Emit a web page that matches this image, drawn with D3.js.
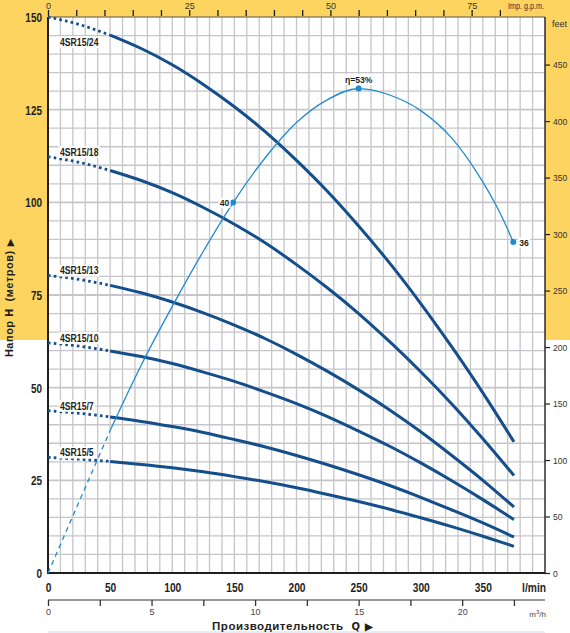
<!DOCTYPE html>
<html>
<head>
<meta charset="utf-8">
<script src="https://cdn.jsdelivr.net/npm/d3@7"></script>
<style>
  body { margin: 0; background: #fff; }
  svg { display: block; }
  text { font-family: "Liberation Sans", Arial, sans-serif; }
</style>
</head>
<body>
<svg id="chart" width="570" height="633"></svg>
<script>
// ---------- DATA ----------
const flowPoints = [0, 25, 50, 75, 100, 125, 150, 175, 200, 225, 250, 275, 300, 325, 350, 375]; // l/min
const curveNames = ["4SR15/24", "4SR15/18", "4SR15/13", "4SR15/10", "4SR15/7", "4SR15/5"];
const head24 = [150, 148.0, 145.1, 141.5, 137.1, 131.8, 125.8, 119.0, 111.3, 102.9, 93.6, 83.6, 72.7, 61.0, 48.6, 35.4];
const head18 = [112.3, 110.8, 108.6, 105.9, 102.6, 98.6, 94.1, 89.0, 83.2, 76.9, 70.0, 62.4, 54.3, 45.6, 36.2, 26.3];
const head13 = [80.3, 79.2, 77.6, 75.6, 73.1, 70.2, 66.9, 63.2, 59.0, 54.4, 49.4, 44.0, 38.1, 31.7, 25.0, 17.8];
const head10 = [62.1, 61.2, 59.9, 58.4, 56.5, 54.2, 51.7, 48.8, 45.7, 42.2, 38.3, 34.2, 29.7, 24.9, 19.8, 14.4];
const head7  = [43.8, 43.1, 42.1, 40.9, 39.5, 37.9, 36.0, 34.0, 31.7, 29.2, 26.5, 23.6, 20.4, 17.0, 13.5, 9.7];
const head5  = [31.2, 30.7, 30.1, 29.3, 28.4, 27.3, 26.0, 24.6, 23.0, 21.2, 19.3, 17.2, 14.9, 12.5, 9.9, 7.2];
const solidFrom = 50; // l/min: curves are dotted below this flow

const etaFlow  = [0, 50, 75, 100, 125, 149, 175, 200, 225, 250, 275, 300, 325, 345, 364, 374.5];
const etaValue = [0, 15.5, 22.6, 29.0, 35.0, 40.3, 45.2, 49.0, 51.5, 52.7, 52.0, 50.3, 47.3, 43.6, 39.1, 36.0]; // %
const etaMarkIdx = [5, 9, 15];
const etaMarkLabels = ["40", "η=53%", "36"];

const headTicks = [0, 25, 50, 75, 100, 125, 150];
const feetTicks = [0, 50, 100, 150, 200, 250, 300, 350, 400, 450];
const lpmTicks  = [0, 50, 100, 150, 200, 250, 300, 350];
const gpmTicks  = [0, 25, 50, 75];
const m3hTicks  = [0, 5, 10, 15, 20];

// ---------- SETUP ----------
const svg = d3.select("#chart");
const L = 48, R = 545, T = 17, B = 573;
const x = d3.scaleLinear([0, 400], [L, R]);
const y = d3.scaleLinear([0, 150], [B, T]);
const yFt = d3.scaleLinear([0, 150 * 3.28084], [B, T]);
const xGpm = d3.scaleLinear([0, 400 / 4.54609], [L, R]);
const xM3h = d3.scaleLinear([0, 24], [L, R]);
const yEta = d3.scaleLinear([0, 150 / 2.48], [B, T]);

const YELLOW = "#fcd45f", PUMP = "#144e8b", ETA = "#1f8bcd", GRID = "#c6c6ca", INK = "#1e1e1e";

// horizontally condense text (narrow typeface look)
function condense(sel, s) {
  sel.each(function () {
    const t = d3.select(this);
    const xx = +t.attr("x") || 0;
    t.attr("x", xx / s).attr("transform", `scale(${s},1)`);
  });
}

// background
svg.append("rect").attr("x", 0).attr("y", 0).attr("width", 570).attr("height", 340).attr("fill", YELLOW);
svg.append("rect").attr("x", L).attr("y", T).attr("width", R - L).attr("height", B - T).attr("fill", "#fff");

// grid
const grid = svg.append("g");
grid.selectAll("line.v").data(d3.range(10, 400, 10)).join("line")
  .attr("x1", d => x(d)).attr("x2", d => x(d)).attr("y1", T).attr("y2", B)
  .attr("stroke", GRID).attr("stroke-width", 1.3);
grid.selectAll("line.h").data(d3.range(5, 150, 5)).join("line")
  .attr("x1", L).attr("x2", R).attr("y1", d => y(d)).attr("y2", d => y(d))
  .attr("stroke", GRID).attr("stroke-width", d => d % 25 === 0 ? 1.9 : 1.3);

// frame lines
svg.append("line").attr("x1", L).attr("x2", R).attr("y1", T).attr("y2", T).attr("stroke", "#555").attr("stroke-width", 1);
svg.append("line").attr("x1", L).attr("x2", L).attr("y1", T).attr("y2", B + 1).attr("stroke", INK).attr("stroke-width", 2);
svg.append("line").attr("x1", L - 1).attr("x2", R).attr("y1", B).attr("y2", B).attr("stroke", INK).attr("stroke-width", 2);
svg.append("line").attr("x1", R).attr("x2", R).attr("y1", T).attr("y2", B).attr("stroke", INK).attr("stroke-width", 1.4);

// left axis (head, m)
const gl = svg.append("g").attr("transform", `translate(${L},0)`)
  .call(d3.axisLeft(y).tickValues(headTicks).tickSize(0).tickPadding(6));
gl.select(".domain").remove();
gl.selectAll("text").attr("font-size", 12.5).attr("font-weight", "bold").attr("fill", INK).attr("dy", "0.36em");
condense(gl.selectAll("text"), 0.8);

// right axis (feet)
const gr = svg.append("g").attr("transform", `translate(${R},0)`)
  .call(d3.axisRight(yFt).tickValues(feetTicks).tickSize(5).tickPadding(3));
gr.select(".domain").remove();
gr.selectAll("line").attr("stroke", INK).attr("stroke-width", 1.2);
gr.selectAll("text").attr("font-size", 9.5).attr("fill", "#333");
condense(gr.selectAll("text"), 0.9);
svg.append("text").attr("x", 552).attr("y", 27).attr("font-size", 9).attr("fill", "#333").text("feet");

// top axis (Imp. g.p.m.)
const gt = svg.append("g").attr("transform", `translate(0,${T - 1})`)
  .call(d3.axisTop(xGpm).tickValues(d3.range(0, 81, 5)).tickSize(6).tickFormat(d => gpmTicks.includes(d) ? d : ""));
gt.select(".domain").remove();
gt.selectAll("line").attr("stroke", INK).attr("stroke-width", 1.3);
gt.selectAll(".tick text").attr("font-size", 9).attr("fill", "#333").attr("y", -7).attr("dy", "0");
svg.append("text").attr("x", 544).attr("y", 9).attr("text-anchor", "end").attr("font-size", 9).attr("fill", "#333")
  .attr("textLength", 36).attr("lengthAdjust", "spacingAndGlyphs").text("Imp. g.p.m.");

// bottom axis (l/min)
const gb = svg.append("g").attr("transform", `translate(0,${B})`)
  .call(d3.axisBottom(x).tickValues(lpmTicks).tickSize(0).tickPadding(10));
gb.select(".domain").remove();
gb.selectAll("text").attr("font-size", 12.5).attr("font-weight", "bold").attr("fill", INK);
condense(gb.selectAll("text"), 0.82);
const lmin = svg.append("text").attr("x", 546).attr("y", 592).attr("text-anchor", "end").attr("font-size", 12.5)
  .attr("font-weight", "bold").attr("fill", INK).text("l/min");
condense(lmin, 0.82);

// second bottom axis (m3/h)
const gm = svg.append("g").attr("transform", `translate(0,600)`)
  .call(d3.axisBottom(xM3h).tickValues(d3.range(0, 23, 2.5)).tickSize(6).tickPadding(3)
    .tickFormat(d => m3hTicks.includes(d) ? d : ""));
gm.select(".domain").attr("d", `M${L},0H${R}`).attr("stroke", "#333").attr("stroke-width", 1.2);
gm.selectAll("line").attr("stroke", "#333").attr("stroke-width", 1.3);
gm.selectAll("text").attr("font-size", 9).attr("fill", "#444");
svg.append("text").attr("x", 546).attr("y", 617).attr("text-anchor", "end").attr("font-size", 8).attr("fill", "#444")
  .html('m<tspan dy="-3" font-size="6">3</tspan><tspan dy="3">/h</tspan>');

// thin bottom rule
svg.append("line").attr("x1", L).attr("x2", R).attr("y1", 632).attr("y2", 632).attr("stroke", "#dfe7f0").attr("stroke-width", 1.5);

// axis titles
svg.append("text").attr("x", 293).attr("y", 630).attr("text-anchor", "middle").attr("font-size", 11.5)
  .attr("font-weight", "bold").attr("fill", INK).attr("letter-spacing", "0.5")
  .html('Производительность <tspan font-size="10" font-family="DejaVu Sans" font-weight="bold" dx="4">Q</tspan><tspan dx="5" font-size="10">▶</tspan>');
svg.append("text").attr("transform", "translate(13,298) rotate(-90)").attr("text-anchor", "middle")
  .attr("font-size", 11).attr("font-weight", "bold").attr("fill", INK).attr("letter-spacing", "0.5")
  .html('Напор <tspan font-family="DejaVu Sans" font-size="10">H</tspan> <tspan dx="3">(метров)</tspan><tspan dx="4" font-size="9">▶</tspan>');

// ---------- PUMP CURVES ----------
const heads = [head24, head18, head13, head10, head7, head5];
const line = d3.line().x(d => x(d[0])).y(d => y(d[1])).curve(d3.curveNatural);
const gc = svg.append("g");
heads.forEach((h, i) => {
  const pts = flowPoints.map((q, k) => [q, h[k]]);
  gc.append("path").attr("d", line(pts.filter(p => p[0] <= solidFrom)))
    .attr("fill", "none").attr("stroke", PUMP).attr("stroke-width", 2.8).attr("stroke-dasharray", "2.6 3.2");
  gc.append("path").attr("d", line(pts.filter(p => p[0] >= solidFrom)))
    .attr("fill", "none").attr("stroke", PUMP).attr("stroke-width", 3);
});

// ---------- EFFICIENCY ----------
const etaLine = d3.line().x(d => x(d[0])).y(d => yEta(d[1])).curve(d3.curveMonotoneX);
const etaPts = etaFlow.map((q, k) => [q, etaValue[k]]);
const ge = svg.append("g");
ge.append("path").attr("d", etaLine(etaPts.filter(p => p[0] <= solidFrom)))
  .attr("fill", "none").attr("stroke", ETA).attr("stroke-width", 1.3).attr("stroke-dasharray", "5 4");
ge.append("path").attr("d", etaLine(etaPts.filter(p => p[0] >= solidFrom)))
  .attr("fill", "none").attr("stroke", ETA).attr("stroke-width", 1.3);

// ---------- LABELS ----------
function boxedText(g, xx, yy, txt, size, anchor, s) {
  const t = g.append("text").attr("x", xx).attr("y", yy).attr("font-size", size).attr("font-weight", "bold")
    .attr("fill", INK).attr("text-anchor", anchor || "start").text(txt);
  condense(t, s);
  const bb = t.node().getBBox();
  g.insert("rect", "text").attr("x", (bb.x - 1.5) * s).attr("y", bb.y).attr("width", (bb.width + 3) * s).attr("height", bb.height)
    .attr("fill", "#fff");
  return t;
}
const gLab = svg.append("g");
curveNames.forEach((name, i) => {
  const g = gLab.append("g");
  const y0 = y(heads[i][0]);
  boxedText(g, 60, i === 0 ? y0 + 29 : y0 - 1, name, 10.2, "start", 0.85);
});

etaMarkIdx.forEach((k, i) => {
  const cx = x(etaFlow[k]), cy = yEta(etaValue[k]);
  ge.append("circle").attr("cx", cx).attr("cy", cy).attr("r", 3).attr("fill", ETA);
  const g = gLab.append("g");
  if (i === 0) boxedText(g, cx - 4, cy + 3.5, etaMarkLabels[i], 9.5, "end", 0.9);
  else if (i === 1) boxedText(g, cx, cy - 6, etaMarkLabels[i], 9.5, "middle", 0.9);
  else boxedText(g, cx + 6, cy + 3.5, etaMarkLabels[i], 9.5, "start", 0.9);
});
</script>
</body>
</html>
